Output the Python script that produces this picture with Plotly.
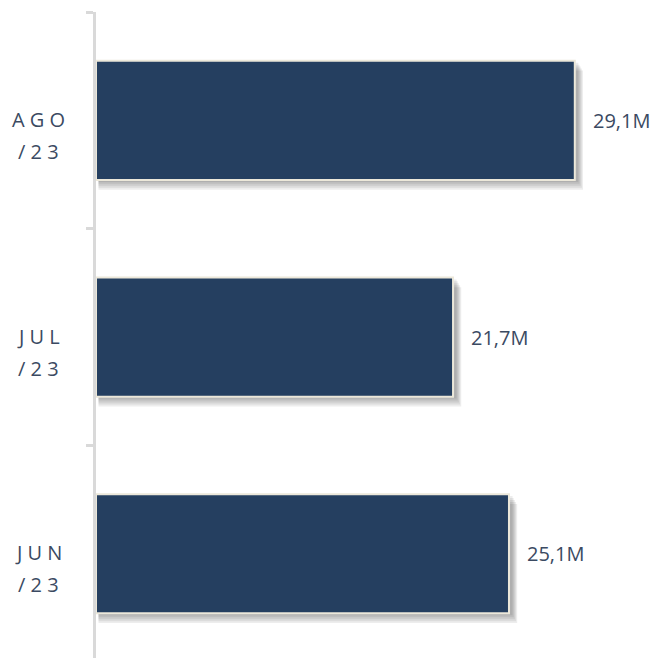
import plotly.graph_objects as go

months = ["AGO/23", "JUL/23", "JUN/23"]
label_top = ["A\u00a0G\u00a0O", "J\u00a0U\u00a0L", "J\u00a0U\u00a0N"]
label_bottom = ["/\u00a02\u00a03"] * 3
values = [29.1, 21.7, 25.1]

bar_color = "#253f60"
text_color = "#3b4a62"


def fmt(v):
    return f"{v:.1f}".replace(".", ",") + "M"


fig = go.Figure()

# soft drop shadow: a few faint layers under each bar
for k in range(1, 6):
    fig.add_trace(
        go.Bar(
            y=months,
            x=[v + 0.07 * k for v in values],
            base=0.15,
            orientation="h",
            width=0.55,
            offset=-0.275 + 0.009 * k,
            marker=dict(color="rgba(0,0,0,0.07)", line=dict(width=0)),
            hoverinfo="skip",
        )
    )

fig.add_trace(
    go.Bar(
        y=months,
        x=values,
        orientation="h",
        width=0.55,
        marker=dict(color=bar_color, line=dict(color="#ece8da", width=2)),
    )
)

for m, v in zip(months, values):
    fig.add_annotation(
        x=v, y=m, xref="x", yref="y",
        text=fmt(v), showarrow=False,
        xanchor="left", xshift=16,
        font=dict(family="Open Sans", size=20, color=text_color),
    )

for m, top, bot in zip(months, label_top, label_bottom):
    fig.add_annotation(
        x=-0.1016, y=m, xref="paper", yref="y",
        text=top, showarrow=False, xanchor="center", yshift=1,
        font=dict(family="Open Sans", size=20, color=text_color),
    )
    fig.add_annotation(
        x=-0.1016, y=m, xref="paper", yref="y",
        text=bot, showarrow=False, xanchor="center", yshift=-31,
        font=dict(family="Open Sans", size=20, color=text_color),
    )

fig.update_layout(
    width=654,
    height=650,
    margin=dict(l=88, r=0, t=4, b=0),
    paper_bgcolor="white",
    plot_bgcolor="white",
    barmode="overlay",
    showlegend=False,
    xaxis=dict(
        range=[0, 34.4],
        showgrid=False,
        zeroline=False,
        showticklabels=False,
        showline=False,
    ),
    yaxis=dict(
        categoryorder="array",
        categoryarray=months,
        range=[2.481, -0.5],
        showgrid=False,
        showticklabels=False,
        showline=True,
        linecolor="#d9d9d9",
        linewidth=3,
        ticks="outside",
        tickson="boundaries",
        ticklen=7,
        tickwidth=3,
        tickcolor="#d9d9d9",
    ),
)

fig.write_html("out.html")
